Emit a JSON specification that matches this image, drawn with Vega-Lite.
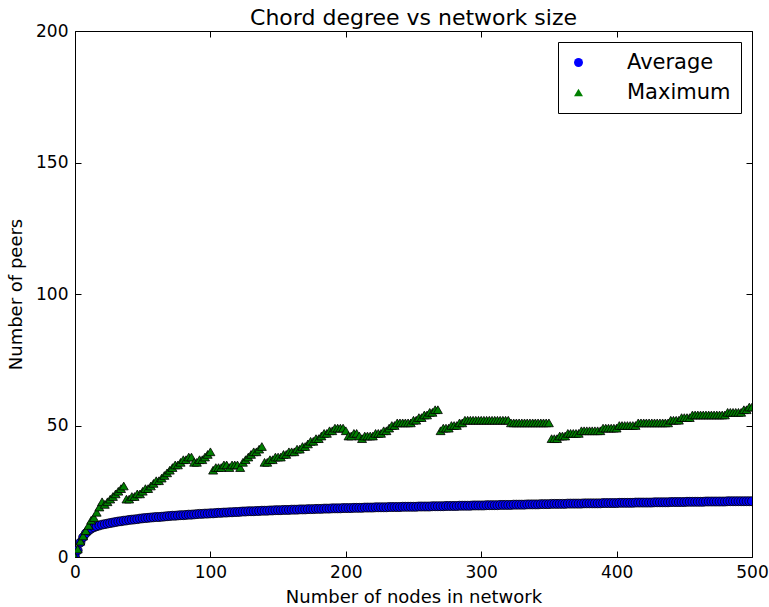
{
"$schema": "https://vega.github.io/schema/vega-lite/v6.json",
"width": 677, "height": 526,
"autosize": {"type": "none"},
"padding": {"left": 75, "top": 31, "right": 17, "bottom": 50},
"background": "white",
"title": {"text": "Chord degree vs network size", "fontSize": 22, "font": "DejaVu Sans", "fontWeight": "normal", "color": "black", "offset": 6, "dy": 14, "anchor": "middle"},
"data": {"values": [
{"n":0,"Average":0,"Maximum":0},{"n":2,"Average":2.5,"Maximum":3},{"n":4,"Average":5.5,"Maximum":6},{"n":6,"Average":7.5,"Maximum":8},{"n":8,"Average":9,"Maximum":10},
{"n":10,"Average":10,"Maximum":12},{"n":12,"Average":10.8,"Maximum":14},{"n":14,"Average":11.3,"Maximum":15},{"n":16,"Average":11.7,"Maximum":17},{"n":18,"Average":12,"Maximum":19},
{"n":20,"Average":12.3,"Maximum":21},{"n":22,"Average":12.5,"Maximum":20},{"n":24,"Average":12.7,"Maximum":21},{"n":26,"Average":12.9,"Maximum":22},{"n":28,"Average":13.1,"Maximum":23},
{"n":30,"Average":13.3,"Maximum":24},{"n":32,"Average":13.5,"Maximum":25},{"n":34,"Average":13.6,"Maximum":26},{"n":36,"Average":13.8,"Maximum":27},{"n":38,"Average":13.9,"Maximum":22},
{"n":40,"Average":14.1,"Maximum":22},{"n":42,"Average":14.2,"Maximum":23},{"n":44,"Average":14.3,"Maximum":23},{"n":46,"Average":14.4,"Maximum":24},{"n":48,"Average":14.6,"Maximum":24},
{"n":50,"Average":14.7,"Maximum":25},{"n":52,"Average":14.8,"Maximum":26},{"n":54,"Average":14.9,"Maximum":26},{"n":56,"Average":15,"Maximum":27},{"n":58,"Average":15.1,"Maximum":28},
{"n":60,"Average":15.2,"Maximum":29},{"n":62,"Average":15.2,"Maximum":29},{"n":64,"Average":15.3,"Maximum":30},{"n":66,"Average":15.4,"Maximum":31},{"n":68,"Average":15.5,"Maximum":32},
{"n":70,"Average":15.6,"Maximum":33},{"n":72,"Average":15.7,"Maximum":34},{"n":74,"Average":15.7,"Maximum":35},{"n":76,"Average":15.8,"Maximum":35},{"n":78,"Average":15.9,"Maximum":36},
{"n":80,"Average":15.9,"Maximum":37},{"n":82,"Average":16,"Maximum":37},{"n":84,"Average":16.1,"Maximum":38},{"n":86,"Average":16.1,"Maximum":38},{"n":88,"Average":16.2,"Maximum":36},
{"n":90,"Average":16.3,"Maximum":36},{"n":92,"Average":16.4,"Maximum":37},{"n":94,"Average":16.4,"Maximum":37},{"n":96,"Average":16.5,"Maximum":38},{"n":98,"Average":16.5,"Maximum":39},
{"n":100,"Average":16.6,"Maximum":40},{"n":102,"Average":16.6,"Maximum":33},{"n":104,"Average":16.7,"Maximum":34},{"n":106,"Average":16.8,"Maximum":34},{"n":108,"Average":16.8,"Maximum":34},
{"n":110,"Average":16.9,"Maximum":35},{"n":112,"Average":16.9,"Maximum":35},{"n":114,"Average":17,"Maximum":34},{"n":116,"Average":17,"Maximum":35},{"n":118,"Average":17.1,"Maximum":35},
{"n":120,"Average":17.1,"Maximum":35},{"n":122,"Average":17.2,"Maximum":34},{"n":124,"Average":17.3,"Maximum":36},{"n":126,"Average":17.3,"Maximum":37},{"n":128,"Average":17.4,"Maximum":38},
{"n":130,"Average":17.4,"Maximum":39},{"n":132,"Average":17.4,"Maximum":40},{"n":134,"Average":17.5,"Maximum":40},{"n":136,"Average":17.5,"Maximum":41},{"n":138,"Average":17.6,"Maximum":42},
{"n":140,"Average":17.6,"Maximum":36},{"n":142,"Average":17.6,"Maximum":36},{"n":144,"Average":17.7,"Maximum":37},{"n":146,"Average":17.7,"Maximum":37},{"n":148,"Average":17.8,"Maximum":38},
{"n":150,"Average":17.8,"Maximum":38},{"n":152,"Average":17.8,"Maximum":38},{"n":154,"Average":17.9,"Maximum":39},{"n":156,"Average":17.9,"Maximum":39},{"n":158,"Average":17.9,"Maximum":40},
{"n":160,"Average":18,"Maximum":40},{"n":162,"Average":18,"Maximum":40},{"n":164,"Average":18,"Maximum":41},{"n":166,"Average":18.1,"Maximum":41},{"n":168,"Average":18.1,"Maximum":42},
{"n":170,"Average":18.1,"Maximum":42},{"n":172,"Average":18.2,"Maximum":43},{"n":174,"Average":18.2,"Maximum":44},{"n":176,"Average":18.2,"Maximum":44},{"n":178,"Average":18.3,"Maximum":45},
{"n":180,"Average":18.3,"Maximum":45},{"n":182,"Average":18.3,"Maximum":46},{"n":184,"Average":18.4,"Maximum":47},{"n":186,"Average":18.4,"Maximum":47},{"n":188,"Average":18.4,"Maximum":48},
{"n":190,"Average":18.5,"Maximum":48},{"n":192,"Average":18.5,"Maximum":49},{"n":194,"Average":18.5,"Maximum":49},{"n":196,"Average":18.5,"Maximum":49},{"n":198,"Average":18.6,"Maximum":49},
{"n":200,"Average":18.6,"Maximum":48},{"n":202,"Average":18.6,"Maximum":46},{"n":204,"Average":18.6,"Maximum":46},{"n":206,"Average":18.7,"Maximum":47},{"n":208,"Average":18.7,"Maximum":47},
{"n":210,"Average":18.7,"Maximum":46},{"n":212,"Average":18.7,"Maximum":45},{"n":214,"Average":18.8,"Maximum":46},{"n":216,"Average":18.8,"Maximum":46},{"n":218,"Average":18.8,"Maximum":46},
{"n":220,"Average":18.8,"Maximum":46},{"n":222,"Average":18.9,"Maximum":47},{"n":224,"Average":18.9,"Maximum":47},{"n":226,"Average":18.9,"Maximum":47},{"n":228,"Average":18.9,"Maximum":48},
{"n":230,"Average":18.9,"Maximum":48},{"n":232,"Average":19,"Maximum":49},{"n":234,"Average":19,"Maximum":50},{"n":236,"Average":19,"Maximum":50},{"n":238,"Average":19,"Maximum":51},
{"n":240,"Average":19,"Maximum":51},{"n":242,"Average":19.1,"Maximum":51},{"n":244,"Average":19.1,"Maximum":51},{"n":246,"Average":19.1,"Maximum":51},{"n":248,"Average":19.1,"Maximum":51},
{"n":250,"Average":19.1,"Maximum":52},{"n":252,"Average":19.1,"Maximum":52},{"n":254,"Average":19.2,"Maximum":53},{"n":256,"Average":19.2,"Maximum":53},{"n":258,"Average":19.2,"Maximum":54},
{"n":260,"Average":19.2,"Maximum":54},{"n":262,"Average":19.2,"Maximum":55},{"n":264,"Average":19.3,"Maximum":55},{"n":266,"Average":19.3,"Maximum":56},{"n":268,"Average":19.3,"Maximum":56},
{"n":270,"Average":19.3,"Maximum":48},{"n":272,"Average":19.3,"Maximum":49},{"n":274,"Average":19.4,"Maximum":49},{"n":276,"Average":19.4,"Maximum":49},{"n":278,"Average":19.4,"Maximum":50},
{"n":280,"Average":19.4,"Maximum":50},{"n":282,"Average":19.4,"Maximum":50},{"n":284,"Average":19.5,"Maximum":51},{"n":286,"Average":19.5,"Maximum":51},{"n":288,"Average":19.5,"Maximum":52},
{"n":290,"Average":19.5,"Maximum":52},{"n":292,"Average":19.5,"Maximum":52},{"n":294,"Average":19.6,"Maximum":52},{"n":296,"Average":19.6,"Maximum":52},{"n":298,"Average":19.6,"Maximum":52},
{"n":300,"Average":19.6,"Maximum":52},{"n":302,"Average":19.6,"Maximum":52},{"n":304,"Average":19.7,"Maximum":52},{"n":306,"Average":19.7,"Maximum":52},{"n":308,"Average":19.7,"Maximum":52},
{"n":310,"Average":19.7,"Maximum":52},{"n":312,"Average":19.7,"Maximum":52},{"n":314,"Average":19.8,"Maximum":52},{"n":316,"Average":19.8,"Maximum":52},{"n":318,"Average":19.8,"Maximum":52},
{"n":320,"Average":19.8,"Maximum":52},{"n":322,"Average":19.8,"Maximum":51},{"n":324,"Average":19.9,"Maximum":51},{"n":326,"Average":19.9,"Maximum":51},{"n":328,"Average":19.9,"Maximum":51},
{"n":330,"Average":19.9,"Maximum":51},{"n":332,"Average":19.9,"Maximum":51},{"n":334,"Average":20,"Maximum":51},{"n":336,"Average":20,"Maximum":51},{"n":338,"Average":20,"Maximum":51},
{"n":340,"Average":20,"Maximum":51},{"n":342,"Average":20,"Maximum":51},{"n":344,"Average":20.1,"Maximum":51},{"n":346,"Average":20.1,"Maximum":51},{"n":348,"Average":20.1,"Maximum":51},
{"n":350,"Average":20.1,"Maximum":51},{"n":352,"Average":20.2,"Maximum":45},{"n":354,"Average":20.2,"Maximum":45},{"n":356,"Average":20.2,"Maximum":45},{"n":358,"Average":20.2,"Maximum":46},
{"n":360,"Average":20.2,"Maximum":46},{"n":362,"Average":20.2,"Maximum":46},{"n":364,"Average":20.3,"Maximum":47},{"n":366,"Average":20.3,"Maximum":47},{"n":368,"Average":20.3,"Maximum":47},
{"n":370,"Average":20.3,"Maximum":47},{"n":372,"Average":20.3,"Maximum":47},{"n":374,"Average":20.3,"Maximum":48},{"n":376,"Average":20.4,"Maximum":48},{"n":378,"Average":20.4,"Maximum":48},
{"n":380,"Average":20.4,"Maximum":48},{"n":382,"Average":20.4,"Maximum":48},{"n":384,"Average":20.4,"Maximum":48},{"n":386,"Average":20.4,"Maximum":48},{"n":388,"Average":20.4,"Maximum":48},
{"n":390,"Average":20.5,"Maximum":49},{"n":392,"Average":20.5,"Maximum":49},{"n":394,"Average":20.5,"Maximum":49},{"n":396,"Average":20.5,"Maximum":49},{"n":398,"Average":20.5,"Maximum":49},
{"n":400,"Average":20.5,"Maximum":49},{"n":402,"Average":20.6,"Maximum":50},{"n":404,"Average":20.6,"Maximum":50},{"n":406,"Average":20.6,"Maximum":50},{"n":408,"Average":20.6,"Maximum":50},
{"n":410,"Average":20.6,"Maximum":50},{"n":412,"Average":20.6,"Maximum":50},{"n":414,"Average":20.7,"Maximum":50},{"n":416,"Average":20.7,"Maximum":51},{"n":418,"Average":20.7,"Maximum":51},
{"n":420,"Average":20.7,"Maximum":51},{"n":422,"Average":20.7,"Maximum":51},{"n":424,"Average":20.7,"Maximum":51},{"n":426,"Average":20.7,"Maximum":51},{"n":428,"Average":20.8,"Maximum":51},
{"n":430,"Average":20.8,"Maximum":51},{"n":432,"Average":20.8,"Maximum":51},{"n":434,"Average":20.8,"Maximum":51},{"n":436,"Average":20.8,"Maximum":51},{"n":438,"Average":20.8,"Maximum":51},
{"n":440,"Average":20.9,"Maximum":52},{"n":442,"Average":20.9,"Maximum":52},{"n":444,"Average":20.9,"Maximum":52},{"n":446,"Average":20.9,"Maximum":52},{"n":448,"Average":20.9,"Maximum":53},
{"n":450,"Average":20.9,"Maximum":53},{"n":452,"Average":21,"Maximum":53},{"n":454,"Average":21,"Maximum":53},{"n":456,"Average":21,"Maximum":54},{"n":458,"Average":21,"Maximum":54},
{"n":460,"Average":21,"Maximum":54},{"n":462,"Average":21,"Maximum":54},{"n":464,"Average":21,"Maximum":54},{"n":466,"Average":21.1,"Maximum":54},{"n":468,"Average":21.1,"Maximum":54},
{"n":470,"Average":21.1,"Maximum":54},{"n":472,"Average":21.1,"Maximum":54},{"n":474,"Average":21.1,"Maximum":54},{"n":476,"Average":21.1,"Maximum":54},{"n":478,"Average":21.1,"Maximum":54},
{"n":480,"Average":21.1,"Maximum":54},{"n":482,"Average":21.2,"Maximum":55},{"n":484,"Average":21.2,"Maximum":55},{"n":486,"Average":21.2,"Maximum":55},{"n":488,"Average":21.2,"Maximum":55},
{"n":490,"Average":21.2,"Maximum":55},{"n":492,"Average":21.2,"Maximum":55},{"n":494,"Average":21.2,"Maximum":56},{"n":496,"Average":21.2,"Maximum":56},{"n":498,"Average":21.2,"Maximum":57},
{"n":500,"Average":21.2,"Maximum":57}
]},
"transform": [{"fold": ["Average", "Maximum"], "as": ["series", "peers"]}],
"layer": [
 {
  "mark": {"type": "point", "filled": true, "stroke": "black", "strokeWidth": 0.8, "opacity": 1, "size": 80, "clip": true},
  "encoding": {
   "x": {"field": "n", "type": "quantitative", "scale": {"domain": [0, 500], "nice": false, "zero": false},
         "axis": {"orient": "bottom", "values": [0, 100, 200, 300, 400, 500], "title": "Number of nodes in network", "titlePadding": 8}},
   "y": {"field": "peers", "type": "quantitative", "scale": {"domain": [0, 200], "nice": false},
         "axis": {"orient": "left", "values": [0, 50, 100, 150, 200], "title": "Number of peers", "titlePadding": 10}},
   "color": {"field": "series", "type": "nominal", "scale": {"domain": ["Average", "Maximum"], "range": ["#0000ff", "#008000"]},
             "legend": {"title": null, "orient": "top-right", "offset": 11, "strokeColor": "black", "fillColor": "white", "padding": 10,
                        "labelFontSize": 21, "labelFont": "DejaVu Sans", "labelColor": "black", "symbolSize": 80, "symbolStrokeWidth": 0,
                        "rowPadding": 8, "labelOffset": 38, "cornerRadius": 0}},
   "shape": {"field": "series", "type": "nominal", "scale": {"domain": ["Average", "Maximum"], "range": ["circle", "triangle-up"]}},
   "order": {"field": "series"}
  }
 },
 {
  "mark": {"type": "point", "opacity": 0},
  "encoding": {
   "x": {"field": "n", "type": "quantitative", "axis": {"orient": "top", "values": [0, 100, 200, 300, 400, 500], "labels": false, "title": null}},
   "y": {"field": "peers", "type": "quantitative", "axis": {"orient": "right", "values": [0, 50, 100, 150, 200], "labels": false, "title": null}}
  }
 }
],
"resolve": {"axis": {"x": "independent", "y": "independent"}},
"config": {
 "view": {"stroke": "black", "strokeWidth": 1},
 "axis": {"domain": false, "grid": false, "tickColor": "black", "tickSize": -6, "tickWidth": 1,
          "labelColor": "black", "labelFont": "DejaVu Sans", "labelFontSize": 17, "labelPadding": 13, "labelFlush": false, "labelOverlap": false,
          "titleFont": "DejaVu Sans", "titleFontSize": 18, "titleFontWeight": "normal", "titleColor": "black"}
}
}
